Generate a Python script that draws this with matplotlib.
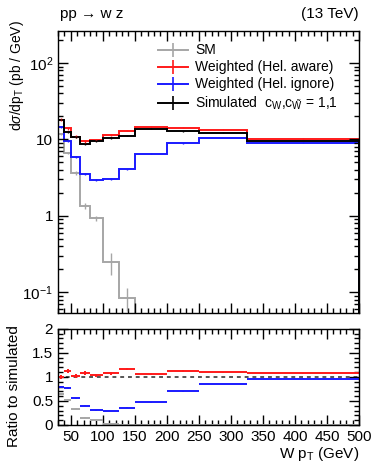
import numpy as np
import matplotlib
matplotlib.use("Agg")
import matplotlib.pyplot as plt
from matplotlib.lines import Line2D
from matplotlib.ticker import MultipleLocator, FixedLocator, LogLocator, FixedFormatter, NullFormatter

plt.rcParams['font.family'] = ['Liberation Sans', 'DejaVu Sans']
plt.rcParams['mathtext.fontset'] = 'custom'
plt.rcParams['mathtext.rm'] = 'Liberation Sans'
plt.rcParams['mathtext.it'] = 'Liberation Sans:italic'
plt.rcParams['mathtext.sf'] = 'Liberation Sans'

# bin edges (GeV) and per-bin cross sections (pb/GeV)
edges = [30, 40, 50, 65, 80, 100, 125, 150, 200, 250, 325, 500]
sm = [11.8, 6.6, 3.65, 1.35, 0.93, 0.25, 0.084, 0.01, 0.002, 0.0005, 0.0001]
sm_err = [0.3, 0.25, 0.2, 0.13, 0.07, 0.08, 0.028, 0.004, 0.001, 0.0003, 0.0001]
hel_aware = [18.2, 14.0, 10.9, 9.4, 9.9, 11.3, 13.0, 14.6, 14.2, 13.4, 10.2]
hel_aware_err = [0.7, 0.6, 0.4, 0.4, 0.3, 0.3, 0.3, 0.2, 0.2, 0.15, 0.1]
hel_ignore = [14.4, 9.6, 5.9, 3.5, 2.95, 3.05, 4.05, 6.5, 8.9, 10.4, 9.1]
hel_ignore_err = [0.4, 0.3, 0.15, 0.1, 0.08, 0.08, 0.1, 0.1, 0.1, 0.1, 0.08]
simulated = [18.2, 12.5, 10.7, 8.7, 9.6, 10.5, 11.2, 13.8, 12.7, 12.2, 9.5]
sim_err = [0.5, 0.4, 0.35, 0.35, 0.3, 0.3, 0.25, 0.2, 0.2, 0.15, 0.1]

series = [
    ("SM", sm, sm_err, "#a6a6a6"),
    ("Weighted (Hel. aware)", hel_aware, hel_aware_err, "#ff1a1a"),
    ("Weighted (Hel. ignore)", hel_ignore, hel_ignore_err, "#1a1aff"),
    (r"Simulated  c$_{\mathrm{W}}$,c$_{\tilde{\mathrm{W}}}$ = 1,1", simulated, sim_err, "black"),
]

edges = np.array(edges, dtype=float)
centers = 0.5 * (edges[1:] + edges[:-1])
half = 0.5 * (edges[1:] - edges[:-1])
sim_arr = np.array(simulated)

fig = plt.figure(figsize=(3.72, 4.66), dpi=100)
ax = fig.add_axes([0.156, 0.328, 0.809, 0.606])
axr = fig.add_axes([0.156, 0.088, 0.809, 0.2065])

handles = []
for name, vals, errs, col in series:
    vals = np.array(vals)
    errs = np.array(errs)
    ax.stairs(vals, edges, color=col, lw=1.4)
    ax.errorbar(centers, vals, yerr=errs, fmt='none', ecolor=col, elinewidth=1.0)
    handles.append(Line2D([], [], color=col, lw=1.4, marker='|', markersize=10, markeredgewidth=1.2))
    if name.startswith("Simulated"):
        continue
    ratio = vals / sim_arr
    rerr = errs / sim_arr
    axr.errorbar(centers, ratio, xerr=half, yerr=rerr, fmt='none', ecolor=col, elinewidth=1.4)

axr.axhline(1.0, color='#555555', lw=1.4, ls=(0, (2, 2)), zorder=0)

# upper panel
ax.set_yscale('log')
ax.set_xlim(30, 500)
ax.set_ylim(0.053, 265)
ax.yaxis.set_major_locator(FixedLocator([0.1, 1, 10, 100]))
ax.yaxis.set_major_formatter(FixedFormatter([r"$10^{-1}$", "1", "10", r"$10^{2}$"]))
ax.yaxis.set_minor_locator(LogLocator(base=10, subs=np.arange(2, 10), numticks=20))
ax.yaxis.set_minor_formatter(NullFormatter())
ax.xaxis.set_major_locator(MultipleLocator(50))
ax.xaxis.set_minor_locator(MultipleLocator(10))
ax.tick_params(axis='x', labelbottom=False)

# ratio panel
axr.set_xlim(30, 500)
axr.set_ylim(0, 2)
axr.xaxis.set_major_locator(MultipleLocator(50))
axr.xaxis.set_minor_locator(MultipleLocator(10))
axr.yaxis.set_major_locator(MultipleLocator(0.5))
axr.yaxis.set_minor_locator(MultipleLocator(0.1))
axr.yaxis.set_major_formatter(matplotlib.ticker.FuncFormatter(lambda v, p: "%g" % v))

for a in (ax, axr):
    a.tick_params(which='both', direction='in', top=True, right=True, labelsize=11, width=1.0)
    a.tick_params(which='major', length=7)
    a.tick_params(which='minor', length=3.5)
    for s in a.spines.values():
        s.set_linewidth(1.0)

# axis titles placed like ROOT (right/top aligned)
fig.text(0.047, 0.957, r"d$\sigma$/dp$_{\mathrm{T}}$ (pb / GeV)", rotation=90,
         ha='center', va='top', fontsize=10)
fig.text(0.038, 0.303, "Ratio to simulated", rotation=90, ha='center', va='top', fontsize=11)
fig.text(0.965, 0.006, r"W p$_{\mathrm{T}}$ (GeV)", ha='right', va='bottom', fontsize=11)

ax.legend(handles, [s[0] for s in series], loc='upper left', bbox_to_anchor=(0.315, 0.975),
          frameon=False, fontsize=10, handlelength=2.1, labelspacing=0.22, handletextpad=0.55,
          borderaxespad=0.0)

fig.text(0.16, 0.955, "pp \u2192 w z", fontsize=11, ha='left', va='bottom')
fig.text(0.965, 0.955, "(13 TeV)", fontsize=11, ha='right', va='bottom')

fig.savefig("out.png", dpi=100)
